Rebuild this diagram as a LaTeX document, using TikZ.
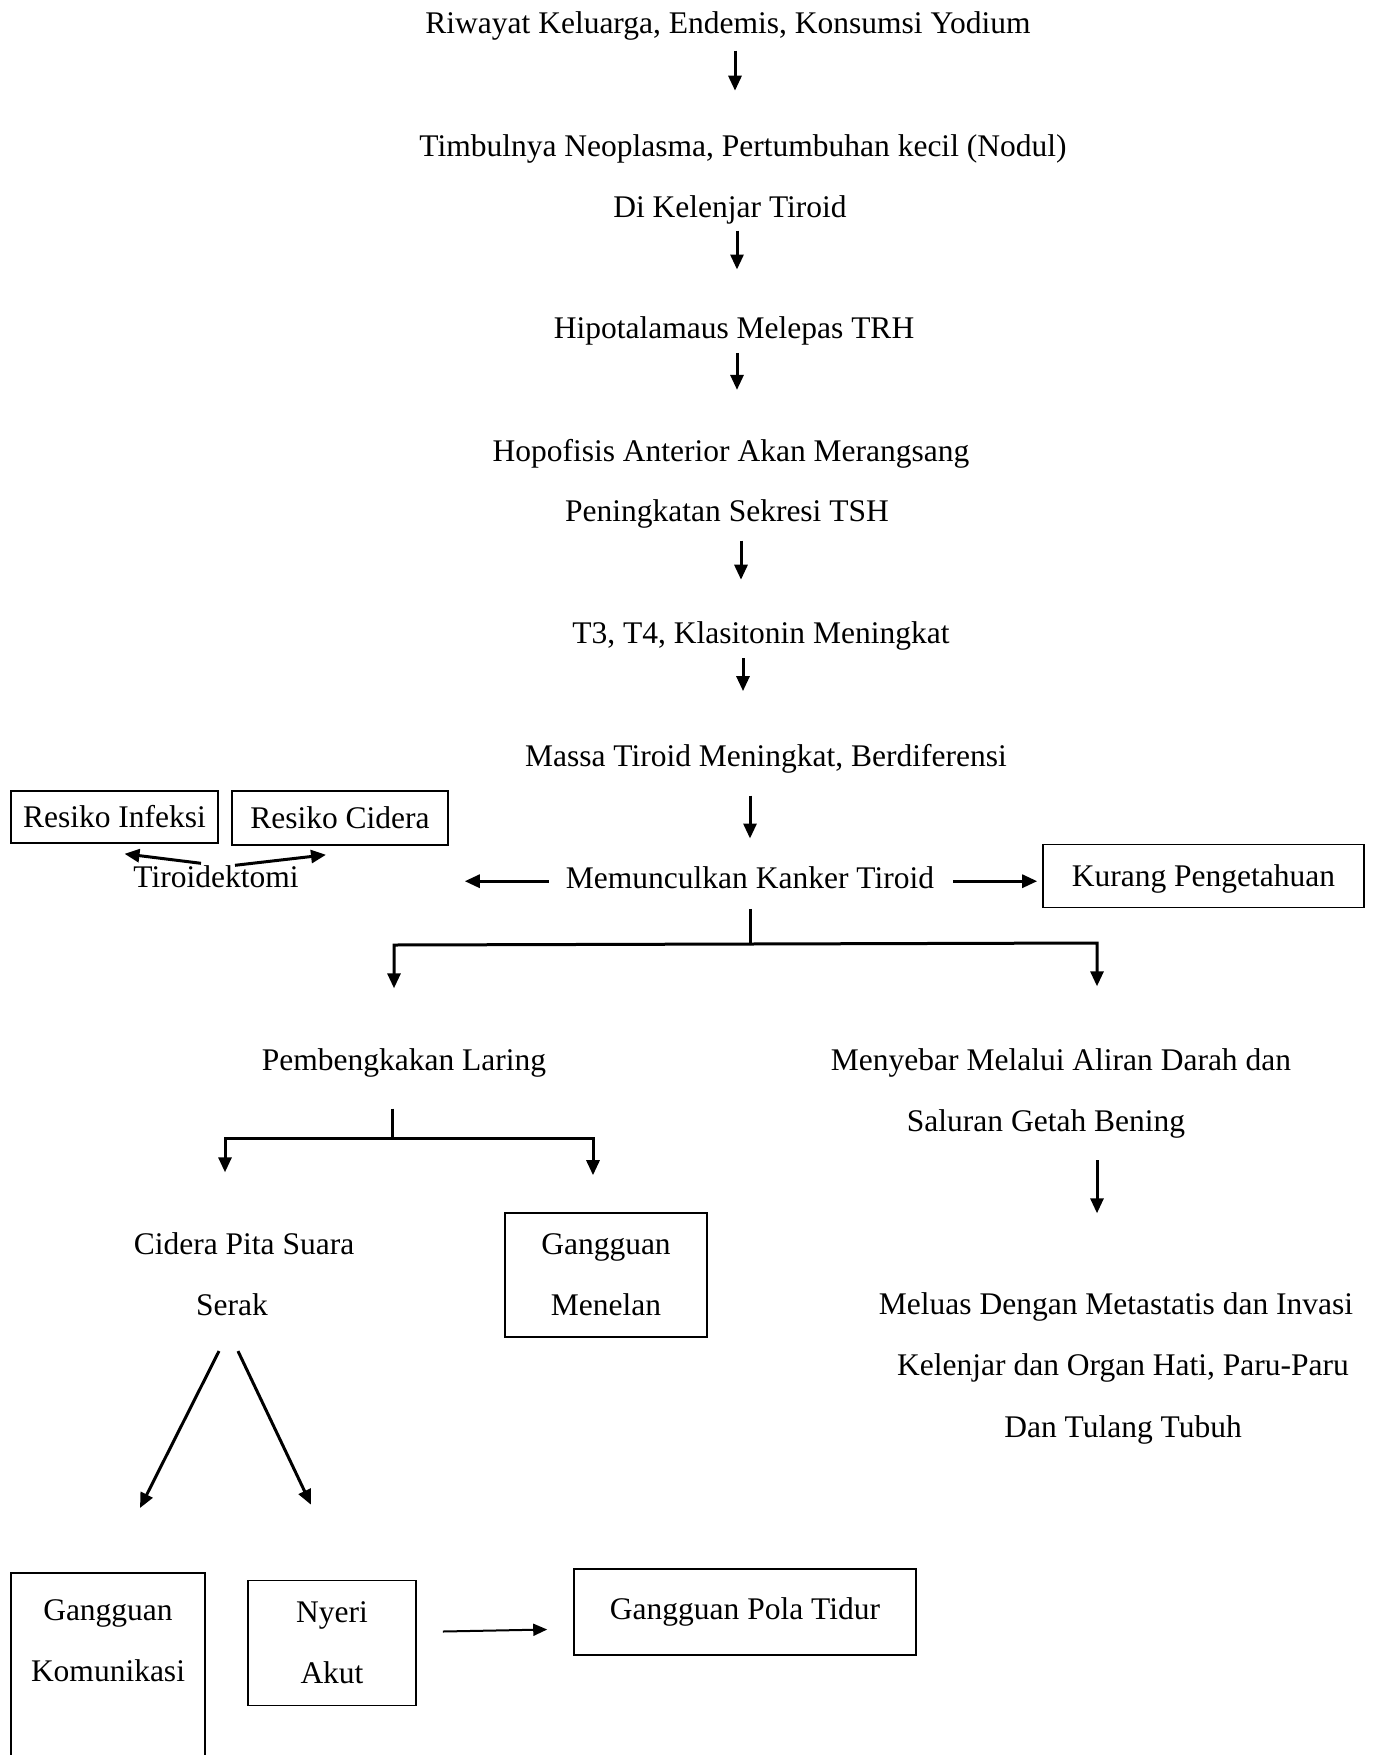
\documentclass[tikz,border=0pt]{standalone}
\usepackage{fontspec}
\setmainfont{Liberation Serif}
\usetikzlibrary{arrows.meta,positioning}

\tikzset{
  txt/.style={font=\fontsize{31.5}{61}\selectfont, inner sep=0pt, text height=22pt, text depth=7pt},
  box/.style={font=\fontsize{31.5}{61}\selectfont, draw, line width=1.6pt, inner sep=0pt, align=center},
  ln/.style={line width=3pt},
  arr/.style={line width=3pt, -{Triangle[length=15pt,width=13pt]}},
  thinarr/.style={line width=2pt, -{Triangle[length=14pt,width=12pt]}},
  node distance=93pt
}

\begin{document}
\begin{tikzpicture}[x=1pt,y=-1pt]
\useasboundingbox (0,0) rectangle (1374,1755);
\clip (0,0) rectangle (1374,1755);
% Main chain
\node[txt] (riwayat) at (728,26) {Riwayat Keluarga, Endemis, Konsumsi Yodium};
\node[txt, below=94pt of riwayat, xshift=15pt] (timbul) {Timbulnya Neoplasma, Pertumbuhan kecil (Nodul)};
\node[txt, below=31pt of timbul, xshift=-13pt] (kelenjar) {Di Kelenjar Tiroid};
\node[txt, below=92pt of kelenjar, xshift=4pt] (hipo) {Hipotalamaus Melepas TRH};
\node[txt, below=of hipo, xshift=-3pt] (hopo) {Hopofisis Anterior Akan Merangsang};
\node[txt, below=31pt of hopo, xshift=-4pt] (sekresi) {Peningkatan Sekresi TSH};
\node[txt, below=of sekresi, xshift=34pt] (t3) {T3, T4, Klasitonin Meningkat};
\node[txt, below=of t3, xshift=5pt] (massa) {Massa Tiroid Meningkat, Berdiferensi};
\node[txt, below=of massa, xshift=-16pt] (kanker) {Memunculkan Kanker Tiroid};
% Kanker row
\node[txt] (tiroid) at (216,880) {Tiroidektomi};
\node[box, minimum width=207pt, minimum height=52pt] (infeksi) at (114.5,817) {Resiko Infeksi};
\node[box, minimum width=216pt, minimum height=54pt] (cidera) at (340,818) {Resiko Cidera};
\node[box, minimum width=321pt, minimum height=63pt, text depth=0pt] (kurang) at (1203.5,876) {Kurang Pengetahuan};
% Second level
\node[txt] (laring) at (404,1063) {Pembengkakan Laring};
\node[txt] (menyebar) at (1061,1063) {Menyebar Melalui Aliran Darah dan};
\node[txt, below=32pt of menyebar, xshift=-15pt] (saluran) {Saluran Getah Bening};
\node[txt] (meluas) at (1116,1307) {Meluas Dengan Metastatis dan Invasi};
\node[txt, below=32pt of meluas, xshift=7pt] (organ) {Kelenjar dan Organ Hati, Paru-Paru};
\node[txt, below=32pt of organ] (tulang) {Dan Tulang Tubuh};
% Laring branch
\node[txt] (pita) at (244,1247) {Cidera Pita Suara};
\node[txt, below=32pt of pita, xshift=-12pt] (serak) {Serak};
\node[box, minimum width=202pt, minimum height=124pt] (menelan) at (606,1275) {Gangguan\\Menelan};
% Last row
\node[box, minimum width=194pt, inner ysep=27pt, anchor=north] (komunikasi) at (108,1572) {Gangguan\\Komunikasi\\~\\~};
\node[box, minimum width=168pt, minimum height=125pt] (nyeri) at (332,1643) {Nyeri\\Akut};
\node[box, minimum width=342pt, minimum height=86pt] (pola) at (745,1612) {Gangguan Pola Tidur};
\coordinate (fork) at (750,944);
\coordinate (forkL) at (394,945);
\coordinate (forkR) at (1097,943);
\coordinate (split) at (392,1138);
\coordinate (splitL) at (225,1138);
\coordinate (splitR) at (593,1138);

% Edges
\draw[arr, shorten <=10pt, shorten >=44pt] ([xshift=7pt]riwayat.south) -- ([xshift=7pt]riwayat.south |- timbul.north);
\draw[arr, shorten <=6pt, shorten >=47pt] ([xshift=7pt]kelenjar.south) -- ([xshift=7pt]kelenjar.south |- hipo.north);
\draw[arr, shorten <=7pt, shorten >=49pt] ([xshift=3pt]hipo.south) -- ([xshift=3pt]hipo.south |- hopo.north);
\draw[arr, shorten <=12pt, shorten >=42pt] ([xshift=14pt]sekresi.south) -- ([xshift=14pt]sekresi.south |- t3.north);
\draw[arr, shorten <=7pt, shorten >=53pt] ([xshift=-18pt]t3.south) -- ([xshift=-18pt]t3.south |- massa.north);
\draw[arr, shorten <=22pt, shorten >=28pt] (massa.south -| kanker.north) -- (kanker.north);
\draw[arr, shorten <=17pt, shorten >=166pt] (kanker.west) -- (kanker.west -| tiroid.east);
\draw[arr, shorten <=19pt, shorten >=5pt] (kanker.east) -- (kanker.east -| kurang.west);
\draw[arr] ([xshift=-15pt,yshift=2pt]tiroid.north) -- ([xshift=10pt,yshift=-10pt]infeksi.south);
\draw[arr] ([xshift=19pt]tiroid.north) -- ([xshift=-14pt,yshift=-9pt]cidera.south);
\draw[ln, shorten <=13pt] (kanker.south) -- (fork);
\draw[arr, shorten >=60pt] (fork) -- (forkL) -- (forkL |- laring.north);
\draw[arr, shorten >=62pt] (fork) -- (forkR) -- (forkR |- menyebar.north);
\draw[arr, shorten <=21pt, shorten >=79pt] ([xshift=51pt]saluran.south) -- ([xshift=51pt]saluran.south |- meluas.north);
\draw[ln, shorten <=31pt] (laring.south -| split) -- (split);
\draw[arr, shorten >=60pt] (split) -- (splitL) -- (splitL |- pita.north);
\draw[arr, shorten >=37pt] (split) -- (splitR) -- (splitR |- menelan.north);
\draw[arr] ([xshift=-13pt,yshift=-28pt]serak.south) -- ([xshift=32pt,yshift=64pt]komunikasi.north);
\draw[arr] ([xshift=6pt,yshift=-28pt]serak.south) -- ([xshift=-21pt,yshift=75pt]nyeri.north);
\draw[thinarr, shorten <=26pt, shorten >=26pt] ([yshift=11pt]nyeri.east) -- ([yshift=-17pt]pola.west);
\end{tikzpicture}
\end{document}
